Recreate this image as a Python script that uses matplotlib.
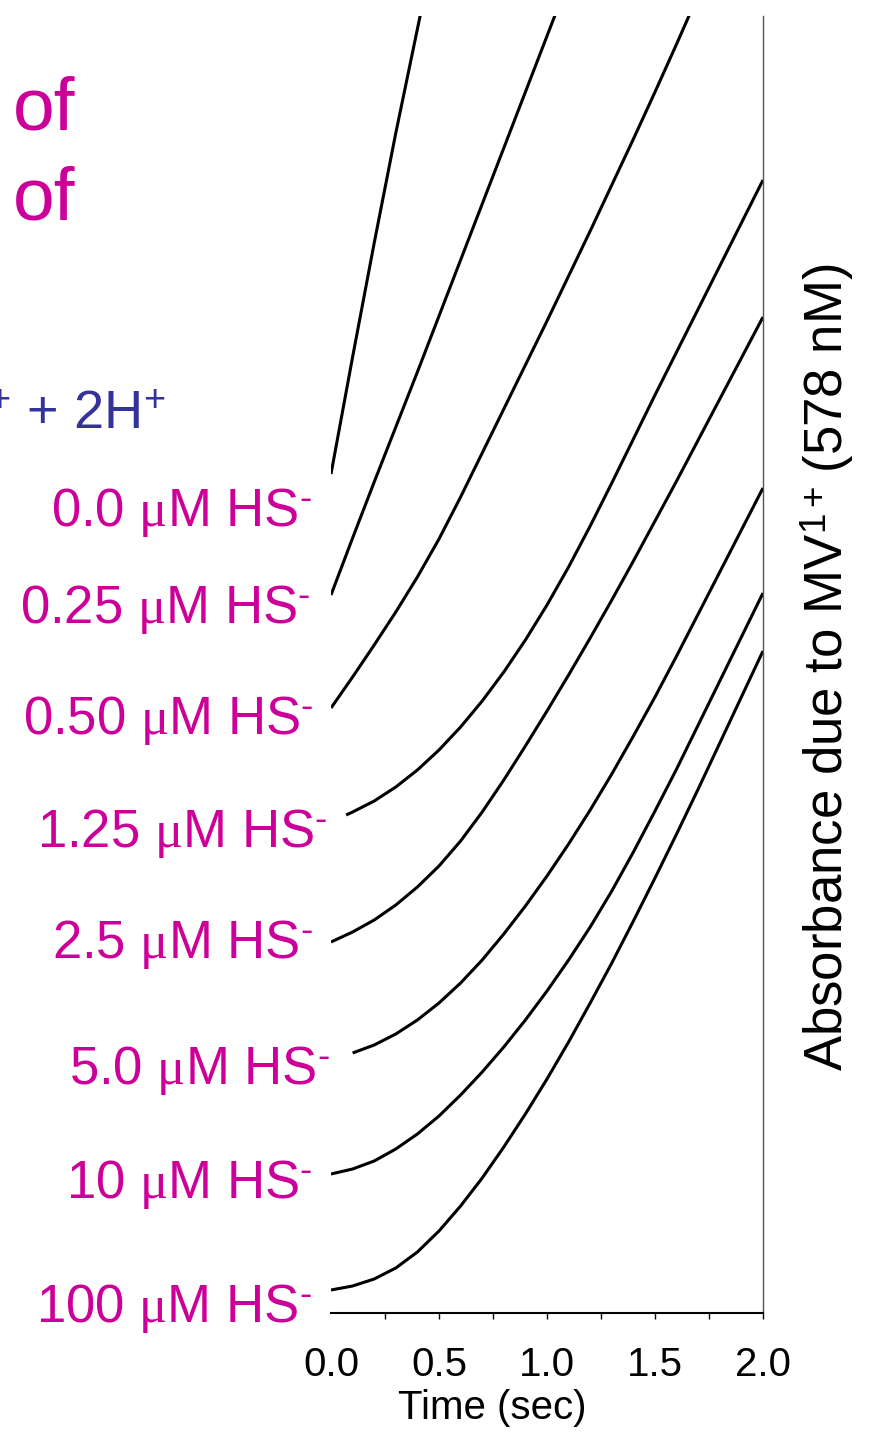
import matplotlib
matplotlib.use('Agg')
import matplotlib.pyplot as plt
from matplotlib.ticker import MultipleLocator

plt.rcParams['font.family'] = ['Liberation Sans', 'DejaVu Sans']
plt.rcParams['mathtext.fontset'] = 'custom'
plt.rcParams['mathtext.rm'] = 'Liberation Sans'
plt.rcParams['mathtext.it'] = 'Liberation Serif'

MAGENTA = '#cc0099'
BLUE = '#333399'

# MV1+ absorbance traces (arbitrary units, stacked), one per HS- concentration
t_a = [0.0, 0.1, 0.2, 0.3, 0.4, 0.5]
abs_0 = [83.9, 95.6, 107.0, 118.0, 128.4, 138.8]

t_b = [0.0, 0.1, 0.2, 0.3, 0.4, 0.5, 0.6, 0.7, 0.8, 0.9, 1.0, 1.1]
abs_025 = [71.8, 77.5, 83.1, 88.6, 94.1, 99.7, 105.3, 110.9, 116.5, 122.1, 127.7, 133.3]

t_c = [0.0, 0.1, 0.2, 0.3, 0.4, 0.5, 0.6, 0.7, 0.8, 0.9, 1.0, 1.1, 1.2, 1.3, 1.4, 1.5, 1.6, 1.7]
abs_050 = [60.5, 63.6, 66.8, 70.1, 73.6, 77.4, 81.6, 86.0, 90.4, 94.8, 99.2, 103.7,
           108.2, 112.8, 117.4, 122.1, 126.9, 131.8]

t_d = [0.07, 0.1, 0.2, 0.3, 0.4, 0.5, 0.6, 0.7, 0.8, 0.9, 1.0, 1.1, 1.2, 1.3, 1.4,
       1.5, 1.6, 1.7, 1.8, 1.9, 2.0]
abs_125 = [49.8, 50.1, 51.2, 52.6, 54.3, 56.3, 58.6, 61.2, 64.1, 67.3, 70.8, 74.6,
           78.7, 83.0, 87.4, 91.8, 96.1, 100.4, 104.7, 109.0, 113.3]

t_full = [0.0, 0.1, 0.2, 0.3, 0.4, 0.5, 0.6, 0.7, 0.8, 0.9, 1.0, 1.1, 1.2, 1.3, 1.4,
          1.5, 1.6, 1.7, 1.8, 1.9, 2.0]
abs_25 = [37.1, 38.1, 39.3, 40.8, 42.6, 44.7, 47.2, 50.1, 53.3, 56.7, 60.2, 63.8,
          67.5, 71.3, 75.2, 79.2, 83.2, 87.3, 91.4, 95.5, 99.6]

t_e = [0.1, 0.2, 0.3, 0.4, 0.5, 0.6, 0.7, 0.8, 0.9, 1.0, 1.1, 1.2, 1.3, 1.4,
       1.5, 1.6, 1.7, 1.8, 1.9, 2.0]
abs_50 = [26.0, 26.8, 27.9, 29.3, 31.0, 33.0, 35.3, 37.9, 40.7, 43.7, 46.9, 50.3,
          53.9, 57.7, 61.6, 65.7, 69.9, 74.1, 78.3, 82.5]

abs_10 = [13.9, 14.4, 15.2, 16.4, 17.9, 19.7, 21.8, 24.1, 26.6, 29.3, 32.2, 35.3,
          38.6, 42.2, 46.1, 50.2, 54.4, 58.8, 63.2, 67.6, 72.0]
abs_100 = [2.3, 2.7, 3.4, 4.5, 6.1, 8.2, 10.7, 13.5, 16.6, 19.9, 23.4, 27.1,
           31.0, 35.0, 39.2, 43.5, 47.9, 52.4, 57.0, 61.6, 66.2]

traces = [(t_a, abs_0), (t_b, abs_025), (t_c, abs_050), (t_d, abs_125),
          (t_full, abs_25), (t_e, abs_50), (t_full, abs_10), (t_full, abs_100)]

conc_labels = ['0.0', '0.25', '0.50', '1.25', '2.5', '5.0', '10', '100']
label_right = [312, 311, 314, 328, 313, 330, 313, 312]
label_base = [526, 623, 734, 847, 958, 1084, 1198, 1322]

W, H = 869, 1432
fig = plt.figure(figsize=(W / 100, H / 100), dpi=100)
ax = fig.add_axes([331 / W, 1 - 1313 / H, 432 / W, 1297 / H])

for t, a in traces:
    ax.plot(t, a, color='black', lw=2.2, solid_capstyle='butt', solid_joinstyle='round')

ax.set_xlim(0, 2.0)
ax.set_ylim(0, 129.7)

ax.spines['left'].set_visible(False)
ax.spines['top'].set_visible(False)
ax.spines['right'].set_color('#555555')
ax.spines['right'].set_linewidth(1.0)
ax.spines['bottom'].set_linewidth(1.5)

ax.set_yticks([])
ax.xaxis.set_major_locator(MultipleLocator(0.5))
ax.xaxis.set_minor_locator(MultipleLocator(0.25))
ax.set_xticks([0, 0.5, 1.0, 1.5, 2.0])
ax.set_xticklabels(['0.0', '0.5', '1.0', '1.5', '2.0'])
ax.tick_params(axis='x', which='both', direction='out', length=4.5, width=1.0,
               labelsize=29, pad=19)
ax.xaxis.get_major_ticks()[0].tick1line.set_visible(False)

ax.set_xlabel('Time (sec)', fontsize=29)
ax.xaxis.set_label_coords((492 - 331) / 432, -(1389 - 1313) / 1297)
ax.xaxis.label.set_va('top')

fig.text(827 / W, 1 - 667 / H, r'Absorbance due to MV$^{1+}\,$(578 nM)',
         rotation=90, ha='center', va='center', fontsize=38)

for c, xr, yb in zip(conc_labels, label_right, label_base):
    fig.text(xr / W, 1 - yb / H, c + r' $\mu$M HS$^{\text{-}}$', color=MAGENTA,
             ha='right', va='baseline', fontsize=38)

fig.text(13 / W, 1 - 130 / H, 'of', color=MAGENTA, ha='left', va='baseline', fontsize=54)
fig.text(13 / W, 1 - 220 / H, 'of', color=MAGENTA, ha='left', va='baseline', fontsize=54)
fig.text(165 / W, 1 - 429 / H, r'$^{+}$ + 2H$^{+}$', color=BLUE,
         ha='right', va='baseline', fontsize=39)

fig.savefig('out.png', dpi=100)
